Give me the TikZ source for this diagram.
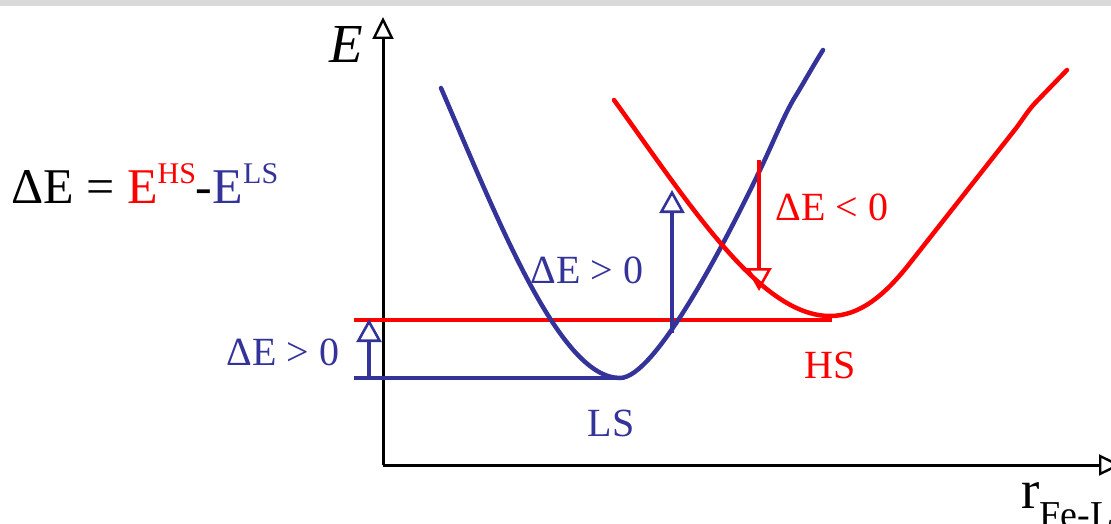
\documentclass[tikz,border=0pt]{standalone}
\usepackage{fontspec}
\setmainfont{Liberation Serif}
\usetikzlibrary{arrows.meta}
\definecolor{lsblue}{RGB}{51,51,153}
\definecolor{hsred}{RGB}{255,0,0}
\begin{document}
\begin{tikzpicture}[x=1pt,y=-1pt,
  axis/.style={line width=3pt, -{Triangle[open,length=22pt,width=21pt,line width=2.4pt]}},
  curve/.style={line width=4.5pt, line join=round, line cap=round},
  level/.style={line width=3.3pt},
  updown/.style={line width=3.5pt, -{Triangle[open,length=23pt,width=25pt,line width=2.6pt]}},
  lbl/.style={inner sep=0pt, anchor=base, font=\fontsize{40}{40}\selectfont}]
\useasboundingbox (0,0) rectangle (1111,524);
\fill[gray!30] (0,0) rectangle (1111,6);
% axes
\coordinate (origin) at (383,465);
\coordinate (ytop) at (383,17);
\coordinate (xend) at (1121,465);
\draw[axis] (origin) -- (ytop);
\draw[axis] (origin) -- (xend);
\node[inner sep=0pt, anchor=base, font=\fontsize{55}{55}\selectfont\itshape] (Elabel) at (346,63) {E};
\node[inner sep=0pt, anchor=base west, font=\fontsize{55}{55}\selectfont] (rlabel) at (1021,508) {r\raisebox{-19pt}{\fontsize{38}{38}\selectfont Fe-L}};
% formula
\node[inner sep=0pt, anchor=base west, font=\fontsize{50}{50}\selectfont] (formula) at (11,203)
  {ΔE = \textcolor{hsred}{E\raisebox{20pt}{\fontsize{30}{30}\selectfont HS}}-\textcolor{lsblue}{E\raisebox{20pt}{\fontsize{30}{30}\selectfont LS}}};
% levels
\coordinate (lsl) at (354,378);
\coordinate (lsm) at (620,378);
\coordinate (hsl) at (354,320);
\coordinate (hsm) at (832,320);
\draw[level, lsblue] (lsl) -- (lsm);
\draw[level, hsred] (hsl) -- (hsm);
% LS curve
\draw[curve, lsblue] (441,88) .. controls (500,225) and (560,378) .. (lsm)
  .. controls (655,378) and (725,243) .. (760,170)
  .. controls (772,145) and (785,113) .. (795,97)
  .. controls (803,84) and (813,66) .. (823,50);
% HS curve
\draw[curve, hsred] (614,100) .. controls (690,205) and (760,316) .. (830,316)
  .. controls (860,316) and (885,295) .. (910,263)
  -- (1017,127) .. controls (1025,116) and (1029,109) .. (1038,100)
  -- (1067,70);
% arrows
\coordinate (a1s) at (369,378);
\coordinate (a1e) at (369,319);
\coordinate (a2s) at (672,333);
\coordinate (a2e) at (672,190);
\coordinate (a3s) at (759,160);
\coordinate (a3e) at (759,291);
\draw[updown, lsblue] (a1s) -- (a1e);
\draw[updown, lsblue] (a2s) -- (a2e);
\draw[updown, hsred] (a3s) -- (a3e);
% labels
\node[lbl, text=lsblue] (dEls) at (283,365) {ΔE > 0};
\node[lbl, text=lsblue] (dEmid) at (587,283) {ΔE > 0};
\node[lbl, text=hsred] (dEhs) at (832,220) {ΔE < 0};
\node[lbl, text=lsblue] (LS) at (611,436) {LS};
\node[lbl, text=hsred] (HS) at (830,378) {HS};
\end{tikzpicture}
\end{document}
